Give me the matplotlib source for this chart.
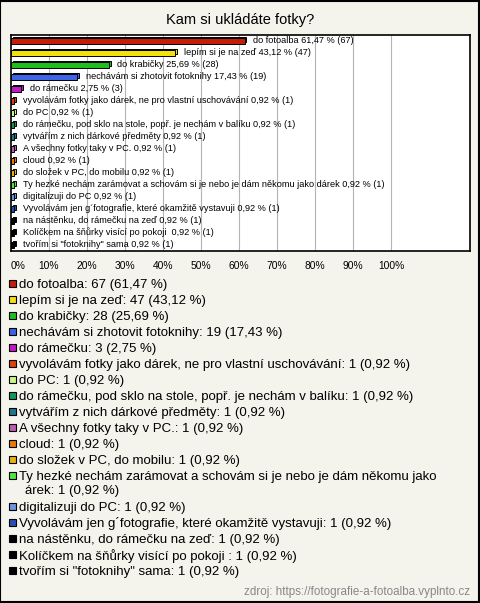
import matplotlib
matplotlib.use('Agg')
import matplotlib.pyplot as plt
from matplotlib.patches import Rectangle

plt.rcParams['font.family'] = ['Liberation Sans', 'DejaVu Sans']

# data
answers = [
    'do fotoalba',
    'lepím si je na zeď',
    'do krabičky',
    'nechávám si zhotovit fotoknihy',
    'do rámečku',
    'vyvolávám fotky jako dárek, ne pro vlastní uschovávání',
    'do PC',
    'do rámečku, pod sklo na stole, popř. je nechám v balíku',
    'vytvářím z nich dárkové předměty',
    'A všechny fotky taky v PC.',
    'cloud',
    'do složek v PC, do mobilu',
    'Ty hezké nechám zarámovat a schovám si je nebo je dám někomu jako dárek',
    'digitalizuji do PC',
    'Vyvolávám jen g´fotografie, které okamžitě vystavuji',
    'na nástěnku, do rámečku na zeď',
    'Kolíčkem na šňůrky visící po pokoji ',
    'tvořím si "fotoknihy" sama',
]
counts = [67, 47, 28, 19, 3, 1, 1, 1, 1, 1, 1, 1, 1, 1, 1, 1, 1, 1]
percents = [61.47, 43.12, 25.69, 17.43, 2.75, 0.92, 0.92, 0.92, 0.92, 0.92,
            0.92, 0.92, 0.92, 0.92, 0.92, 0.92, 0.92, 0.92]
colors = ['#c41e0a', '#f2e20a', '#1ebe1e', '#3c64e6', '#c018c8', '#e0400a',
          '#c8fa82', '#12965a', '#1a7890', '#c05ab4', '#e8780a', '#e6b40a',
          '#50e63c', '#6e96e0', '#2850b4', '#000000', '#000000', '#000000']
xticks = [0, 10, 20, 30, 40, 50, 60, 70, 80, 90, 100]

W, H = 480, 603
bg = '#f4f3ec'


def fx(px):
    return px / W


def fy(py):
    return 1 - py / H


def fmt(v):
    return ('%.2f' % v).replace('.', ',')


fig = plt.figure(figsize=(W / 100, H / 100), dpi=100, facecolor=bg)
fig.add_artist(Rectangle((0.001, 0.001), 0.997, 0.997, transform=fig.transFigure,
                         fill=False, edgecolor='black', lw=1.5))

fig.text(0.5, fy(20), 'Kam si ukládáte fotky?', ha='center', va='center', fontsize=10.5)

ax = fig.add_axes([fx(11), fy(251), fx(459), 216 / H])
ax.set_facecolor('white')
ax.set_xlim(0, 120.8)
ax.set_ylim(len(answers) - 0.5, -0.5)
for x in xticks[1:]:
    ax.axvline(x, color='#b4b4b4', lw=0.8, zorder=0)

# pseudo 3d bars
dx, dy, bh = 0.5, 0.15, 0.42
for i, (p, c) in enumerate(zip(percents, colors)):
    ax.barh(i - dy, p, left=dx, height=bh, color=c, edgecolor='black', lw=0.7, zorder=2)
    ax.barh(i, p, height=bh, color=c, edgecolor='black', lw=0.7, zorder=3)
    ax.text(p + dx + 1.8, i - 0.05, '%s %s %% (%d)' % (answers[i], fmt(p), counts[i]),
            va='center', ha='left', fontsize=6.6, zorder=4)

ax.set_yticks([])
ax.set_xticks(xticks)
ax.set_xticklabels(['%d%%' % t for t in xticks], fontsize=7.4)
ax.get_xticklabels()[0].set_horizontalalignment('left')
ax.tick_params(axis='x', length=0, pad=7)
for s in ax.spines.values():
    s.set_linewidth(1.2)

# legend
for i, (a, n, p, c) in enumerate(zip(answers, counts, percents, colors)):
    y = 285 + 16 * i + (15 if i > 12 else 0)
    fig.add_artist(Rectangle((fx(9), fy(y + 2)), fx(7), 7 / H, transform=fig.transFigure,
                             facecolor=c, edgecolor='black', lw=0.8))
    label = '%s: %d (%s %%)' % (a, n, fmt(p))
    if i == 12:
        fig.text(fx(19), fy(y), label[:66], va='center', ha='left', fontsize=9.5)
        fig.text(fx(25), fy(y + 14), label[67:], va='center', ha='left', fontsize=9.5)
    else:
        fig.text(fx(19), fy(y), label, va='center', ha='left', fontsize=9.5)

fig.text(fx(470), fy(592), 'zdroj: https://fotografie-a-fotoalba.vyplnto.cz',
         ha='right', va='center', fontsize=8.4, color='#888888')

fig.savefig('out.png', dpi=100, facecolor=bg)
